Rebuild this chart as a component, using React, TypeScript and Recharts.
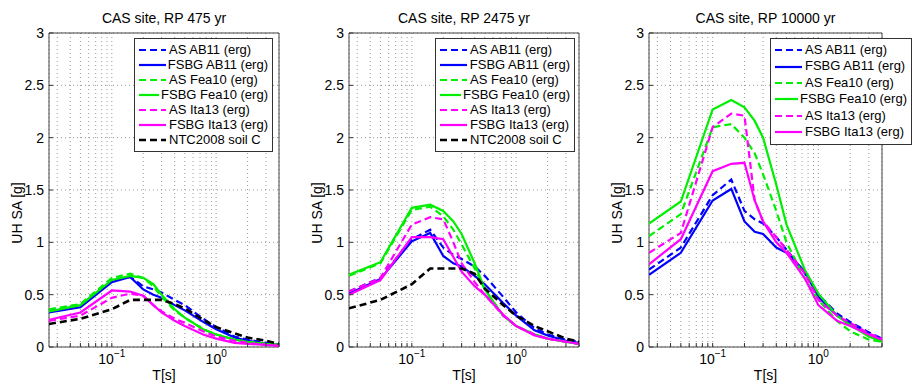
import React from "react";
import {
  LineChart,
  Line,
  XAxis,
  YAxis,
  CartesianGrid,
  ReferenceArea,
  Legend,
} from "recharts";

const FONT = "'Liberation Sans', Arial, Helvetica, sans-serif";

const periods = [0.025, 0.05, 0.1, 0.15, 0.2, 0.25, 0.3, 0.4, 0.5, 0.75, 1, 1.5, 2, 3, 4];
const xTicks = [0.03, 0.04, 0.05, 0.06, 0.07, 0.08, 0.09, 0.1, 0.2, 0.3, 0.4, 0.5, 0.6, 0.7, 0.8, 0.9, 1, 2, 3, 4];
const yTicks = [0, 0.5, 1, 1.5, 2, 2.5, 3];

// RP 475 yr
const asAB11_475 = [0.35, 0.4, 0.64, 0.67, 0.58, 0.55, 0.52, 0.45, 0.4, 0.27, 0.19, 0.1, 0.07, 0.04, 0.02];
const fsbgAB11_475 = [0.33, 0.38, 0.62, 0.67, 0.55, 0.5, 0.47, 0.4, 0.35, 0.24, 0.17, 0.09, 0.06, 0.03, 0.02];
const asFea10_475 = [0.36, 0.41, 0.66, 0.7, 0.66, 0.58, 0.48, 0.35, 0.28, 0.17, 0.12, 0.07, 0.05, 0.03, 0.02];
const fsbgFea10_475 = [0.34, 0.4, 0.64, 0.68, 0.66, 0.6, 0.5, 0.36, 0.28, 0.17, 0.12, 0.07, 0.05, 0.03, 0.02];
const asIta13_475 = [0.25, 0.3, 0.47, 0.51, 0.49, 0.4, 0.34, 0.27, 0.23, 0.15, 0.1, 0.06, 0.04, 0.02, 0.01];
const fsbgIta13_475 = [0.26, 0.33, 0.54, 0.53, 0.49, 0.4, 0.33, 0.25, 0.2, 0.12, 0.08, 0.04, 0.03, 0.02, 0.01];
const ntc_475 = [0.22, 0.27, 0.36, 0.45, 0.45, 0.45, 0.45, 0.41, 0.37, 0.26, 0.19, 0.13, 0.09, 0.06, 0.03];

// RP 2475 yr
const asAB11_2475 = [0.53, 0.66, 1.03, 1.12, 0.95, 0.88, 0.84, 0.77, 0.68, 0.48, 0.33, 0.18, 0.12, 0.07, 0.05];
const fsbgAB11_2475 = [0.51, 0.65, 1.01, 1.09, 0.87, 0.8, 0.77, 0.68, 0.6, 0.42, 0.3, 0.16, 0.11, 0.06, 0.04];
const asFea10_2475 = [0.68, 0.8, 1.31, 1.34, 1.25, 1.12, 0.98, 0.75, 0.55, 0.3, 0.2, 0.12, 0.08, 0.05, 0.03];
const fsbgFea10_2475 = [0.69, 0.81, 1.33, 1.36, 1.3, 1.2, 1.08, 0.8, 0.55, 0.3, 0.2, 0.12, 0.08, 0.05, 0.03];
const asIta13_2475 = [0.53, 0.66, 1.17, 1.24, 1.22, 1.0, 0.8, 0.62, 0.5, 0.3, 0.2, 0.12, 0.08, 0.05, 0.03];
const fsbgIta13_2475 = [0.5, 0.64, 1.05, 1.05, 1.03, 0.86, 0.72, 0.58, 0.5, 0.31, 0.2, 0.11, 0.08, 0.05, 0.03];
const ntc_2475 = [0.37, 0.45, 0.6, 0.75, 0.75, 0.75, 0.75, 0.7, 0.56, 0.4, 0.3, 0.2, 0.15, 0.08, 0.05];

// RP 10000 yr
const asAB11_10000 = [0.74, 0.95, 1.45, 1.6, 1.3, 1.22, 1.18, 1.05, 0.93, 0.7, 0.5, 0.32, 0.24, 0.14, 0.08];
const fsbgAB11_10000 = [0.69, 0.9, 1.4, 1.51, 1.2, 1.1, 1.08, 0.95, 0.9, 0.72, 0.48, 0.3, 0.22, 0.12, 0.07];
const asFea10_10000 = [1.06, 1.27, 2.1, 2.13, 2.0, 1.85, 1.65, 1.3, 1.0, 0.65, 0.45, 0.25, 0.15, 0.07, 0.05];
const fsbgFea10_10000 = [1.18, 1.39, 2.27, 2.36, 2.29, 2.16, 2.0, 1.55, 1.17, 0.73, 0.51, 0.3, 0.21, 0.1, 0.05];
const asIta13_10000 = [0.9, 1.09, 2.1, 2.23, 2.21, 1.4, 1.2, 1.05, 0.93, 0.7, 0.45, 0.3, 0.23, 0.13, 0.08];
const fsbgIta13_10000 = [0.79, 1.03, 1.68, 1.75, 1.76, 1.4, 1.2, 1.0, 0.9, 0.65, 0.4, 0.25, 0.2, 0.12, 0.07];

const series = [
  { key: "asAB11", name: "AS AB11 (erg)", color: "#0000ff", dashed: true },
  { key: "fsbgAB11", name: "FSBG AB11 (erg)", color: "#0000ff", dashed: false },
  { key: "asFea10", name: "AS Fea10 (erg)", color: "#00ee00", dashed: true },
  { key: "fsbgFea10", name: "FSBG Fea10 (erg)", color: "#00ee00", dashed: false },
  { key: "asIta13", name: "AS Ita13 (erg)", color: "#ff00ff", dashed: true },
  { key: "fsbgIta13", name: "FSBG Ita13 (erg)", color: "#ff00ff", dashed: false },
  { key: "ntc", name: "NTC2008 soil C", color: "#000000", dashed: true },
];

const buildRows = (cols: Record<string, number[]>) =>
  periods.map((T, i) => {
    const row: Record<string, number> = { T };
    Object.keys(cols).forEach((k) => (row[k] = cols[k][i]));
    return row;
  });

const panels = [
  {
    title: "CAS site, RP 475 yr",
    left: 0,
    width: 300,
    legend: { left: 134, width: 139 },
    rows: buildRows({
      asAB11: asAB11_475, fsbgAB11: fsbgAB11_475, asFea10: asFea10_475,
      fsbgFea10: fsbgFea10_475, asIta13: asIta13_475, fsbgIta13: fsbgIta13_475, ntc: ntc_475,
    }),
    keys: ["asAB11", "fsbgAB11", "asFea10", "fsbgFea10", "asIta13", "fsbgIta13", "ntc"],
  },
  {
    title: "CAS site, RP 2475 yr",
    left: 300,
    width: 300,
    legend: { left: 135, width: 140 },
    rows: buildRows({
      asAB11: asAB11_2475, fsbgAB11: fsbgAB11_2475, asFea10: asFea10_2475,
      fsbgFea10: fsbgFea10_2475, asIta13: asIta13_2475, fsbgIta13: fsbgIta13_2475, ntc: ntc_2475,
    }),
    keys: ["asAB11", "fsbgAB11", "asFea10", "fsbgFea10", "asIta13", "fsbgIta13", "ntc"],
  },
  {
    title: "CAS site, RP 10000 yr",
    left: 600,
    width: 314,
    legend: { left: 170, width: 142 },
    rows: buildRows({
      asAB11: asAB11_10000, fsbgAB11: fsbgAB11_10000, asFea10: asFea10_10000,
      fsbgFea10: fsbgFea10_10000, asIta13: asIta13_10000, fsbgIta13: fsbgIta13_10000,
    }),
    keys: ["asAB11", "fsbgAB11", "asFea10", "fsbgFea10", "asIta13", "fsbgIta13"],
  },
];

const XTick = (props: any) => {
  const { x, y, payload } = props;
  const v = payload.value;
  const exp = v === 0.1 ? "\u22121" : v === 1 ? "0" : null;
  return (
    <g>
      <line x1={x} x2={x} y1={y} y2={y - 4} stroke="#333" />
      {exp && (
        <text x={x} y={y + 17} textAnchor="middle" fontSize={14} fontFamily={FONT} fill="#000">
          <tspan>10</tspan>
          <tspan dy={-7} fontSize={10}>{exp}</tspan>
        </text>
      )}
    </g>
  );
};

const YTick = (props: any) => {
  const { x, y, payload } = props;
  return (
    <g>
      <line x1={x} x2={x + 4} y1={y} y2={y} stroke="#333" />
      <text x={x - 5} y={y + 5} textAnchor="end" fontSize={14} fontFamily={FONT} fill="#000">
        {payload.value}
      </text>
    </g>
  );
};

const LegendBox = ({ keys }: { keys: string[] }) => (
  <div
    style={{
      border: "1px solid #333",
      background: "#fff",
      padding: "3px 4px 4px 3px",
      fontFamily: FONT,
      fontSize: 13,
      lineHeight: keys.length > 6 ? "15px" : "16.4px",
    }}
  >
    {series
      .filter((s) => keys.includes(s.key))
      .map((s) => (
        <div key={s.key} style={{ display: "flex", alignItems: "center", whiteSpace: "nowrap" }}>
          <svg width={29} height={10} style={{ marginRight: 2 }}>
            <line
              x1={1}
              x2={28}
              y1={5}
              y2={5}
              stroke={s.color}
              strokeWidth={s.key === "ntc" ? 2.6 : 2.2}
              strokeDasharray={s.dashed ? "7 4" : undefined}
            />
          </svg>
          <span>{s.name}</span>
        </div>
      ))}
  </div>
);

function Panel({ p }: { p: (typeof panels)[number] }) {
  const plotRight = p.width - (p.width === 300 ? 21 : 32);
  return (
    <div style={{ position: "absolute", left: p.left, top: 0, width: p.width, height: 385 }}>
      <div
        style={{
          position: "absolute",
          top: 9,
          left: 49,
          width: plotRight - 49,
          textAlign: "center",
          fontFamily: FONT,
          fontSize: 14,
          lineHeight: "18px",
        }}
      >
        {p.title}
      </div>
      <LineChart
        width={p.width}
        height={385}
        data={p.rows}
        margin={{ top: 33, right: p.width - plotRight, left: 0, bottom: 0 }}
        style={{ fontFamily: FONT }}
      >
        <CartesianGrid stroke="#9a9a9a" strokeDasharray="1 3" />
        <XAxis
          dataKey="T"
          type="number"
          scale="log"
          domain={[0.025, 4]}
          allowDataOverflow
          ticks={xTicks}
          interval={0}
          tick={<XTick />}
          tickLine={false}
          axisLine={false}
          tickSize={0}
          tickMargin={0}
          height={38}
          label={{
            value: "T[s]",
            position: "insideBottom",
            offset: 5,
            fontSize: 14,
            fill: "#000",
          }}
        />
        <YAxis
          type="number"
          domain={[0, 3]}
          ticks={yTicks}
          interval={0}
          tick={<YTick />}
          tickLine={false}
          axisLine={false}
          tickSize={0}
          tickMargin={0}
          width={49}
          label={{
            content: () => (
              <text
                x={22}
                y={213}
                transform="rotate(-90 22 213)"
                textAnchor="middle"
                fontSize={14}
                fontFamily={FONT}
                fill="#000"
              >
                UH SA [g]
              </text>
            ),
          }}
        />
        {series
          .filter((s) => p.keys.includes(s.key))
          .map((s) => (
            <Line
              key={s.key}
              dataKey={s.key}
              name={s.name}
              type="linear"
              stroke={s.color}
              strokeWidth={s.key === "ntc" ? 2.6 : 2.2}
              strokeDasharray={s.dashed ? "7 4" : undefined}
              dot={false}
              activeDot={false}
              isAnimationActive={false}
            />
          ))}
        <ReferenceArea
          x1={0.025}
          x2={4}
          y1={0}
          y2={3}
          fill="none"
          stroke="#444"
          strokeWidth={1}
          ifOverflow="visible"
        />
        <Legend
          layout="vertical"
          align="center"
          verticalAlign="middle"
          content={() => <LegendBox keys={p.keys} />}
          wrapperStyle={{ left: p.legend.left, top: 38, width: p.legend.width, right: "auto", bottom: "auto" }}
        />
      </LineChart>
    </div>
  );
}

export default function App() {
  return (
    <div style={{ position: "absolute", left: 0, top: 0, width: 914, height: 385, background: "#fff" }}>
      {panels.map((p) => (
        <Panel key={p.title} p={p} />
      ))}
    </div>
  );
}
